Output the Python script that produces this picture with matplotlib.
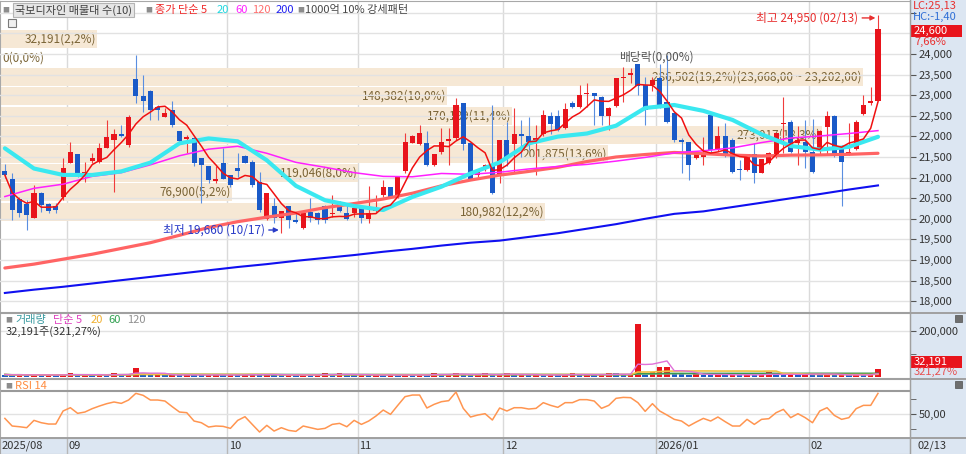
import numpy as np
import pandas as pd
import matplotlib
matplotlib.use('Agg')
import matplotlib.pyplot as plt
from matplotlib.patches import Rectangle
from matplotlib.lines import Line2D
from matplotlib.ticker import FuncFormatter

plt.rcParams['font.family'] = ['Noto Sans CJK KR', 'DejaVu Sans']
plt.rcParams['axes.unicode_minus'] = False

# ---- 데이터 (일봉, 2025-08-19 ~ 2026-02-13) ----
holidays = ['2025-10-03', '2025-10-06', '2025-10-07', '2025-10-08', '2025-10-09',
            '2025-12-25', '2025-12-31', '2026-01-01']
dates = pd.bdate_range('2025-08-19', '2026-02-13', freq='C', holidays=holidays)

opens = [21160, 20960, 20470, 20350, 20010, 20620, 20360, 20300, 20520, 21360,
         21570, 21060, 21410, 21390, 21730, 21910, 22050, 21790, 23390, 22970,
         23090, 22710, 22480, 22630, 22140, 21930, 21970, 21470, 21270, 20920,
         21360, 21060, 21230, 21530, 21390, 20900, 19990, 20310, 20010, 20310,
         19970, 19770, 20170, 20150, 20310, 20110, 20360, 20150, 20130, 20310,
         19990, 20200, 20580, 20760, 20520, 21170, 21850, 21820, 21830, 21310,
         21610, 21900, 21950, 22820, 21830, 21060, 21200, 21310, 21040, 21910,
         21820, 22050, 22010, 21910, 22050, 22500, 22500, 22200, 22820, 22720,
         23030, 23060, 22950, 22500, 22740, 23410, 23490, 23760, 23250, 23250,
         23410, 22840, 22560, 21910, 21870, 21470, 21500, 22520, 21670, 22010,
         21910, 21200, 21190, 21570, 21120, 21350, 21490, 22310, 22360, 21830,
         21870, 21610, 21670, 22220, 22490, 21750, 21550, 21690, 22540, 22800,
         22860]
highs = [21330, 21100, 20540, 20460, 20820, 20660, 20390, 20380, 21470, 21870,
         21570, 21390, 21590, 21830, 22400, 22170, 22280, 22520, 23980, 23490,
         23130, 22760, 22680, 22870, 22140, 22030, 21990, 21470, 21270, 21270,
         21710, 21060, 21590, 21550, 21430, 21140, 20620, 20500, 20190, 20310,
         20130, 20170, 20500, 20170, 20340, 20580, 20420, 20340, 20380, 20340,
         20800, 20580, 20940, 20780, 21010, 22080, 22030, 22280, 22120, 21570,
         22200, 22200, 22920, 22820, 21830, 21180, 21340, 22760, 21910, 22360,
         22680, 22400, 22480, 22280, 22640, 22600, 22640, 22800, 22860, 23250,
         23290, 23060, 22970, 22720, 23410, 23690, 23650, 23760, 23450, 23450,
         23760, 23980, 22600, 21950, 21870, 21610, 21990, 22520, 22250, 22330,
         21950, 21430, 21570, 21830, 21450, 21630, 22090, 22960, 22400, 22250,
         22400, 22420, 22160, 22620, 22520, 21790, 22320, 22400, 23010, 23210,
         24950]
lows = [20980, 19970, 20050, 19720, 20010, 20170, 20130, 20130, 20460, 21350,
        21020, 20900, 21350, 21350, 21710, 20660, 21990, 21750, 22800, 22600,
        22400, 22400, 22460, 22240, 21830, 21590, 21270, 20380, 20860, 20880,
        20960, 20780, 21020, 21350, 20780, 20170, 19970, 19890, 19660, 19770,
        19890, 19750, 19930, 19870, 19890, 20050, 20170, 19970, 20050, 19890,
        19890, 20170, 20540, 20500, 20500, 21100, 21830, 21790, 21280, 21280,
        21570, 21310, 21910, 21670, 20940, 21020, 21170, 20600, 20860, 21270,
        21140, 21510, 21670, 21060, 22010, 22060, 22120, 22170, 22680, 22680,
        22720, 22280, 22280, 22160, 22720, 22840, 23290, 23010, 22280, 23100,
        22680, 22320, 21870, 21100, 20940, 21450, 21310, 21630, 21650, 21510,
        21100, 20940, 21150, 20860, 21100, 21330, 21470, 21590, 21590, 21310,
        21230, 21120, 21550, 21550, 21510, 20300, 21540, 21670, 22520, 22760,
        22860]
closes = [21060, 20210, 20150, 20090, 20620, 20340, 20200, 20210, 21230, 21610,
          21120, 21140, 21470, 21730, 21980, 22060, 22010, 22480, 22970, 22860,
          22630, 22640, 22560, 22280, 21900, 21980, 21360, 21310, 20930, 20960,
          20960, 20820, 21160, 21360, 20820, 20210, 20620, 20010, 20190, 19970,
          19930, 20150, 20010, 19960, 19970, 20150, 20200, 19990, 20250, 20010,
          20130, 20250, 20760, 20520, 21010, 21870, 22010, 22080, 21310, 21570,
          21870, 21930, 22760, 21820, 20960, 21160, 21310, 20620, 21910, 21510,
          22050, 22010, 21870, 21970, 22520, 22300, 22160, 22660, 22720, 23010,
          23060, 22980, 22500, 22700, 23410, 23450, 23530, 23220, 22630, 23370,
          22720, 22360, 21910, 21870, 21310, 21590, 21540, 21670, 22010, 21550,
          21140, 21180, 21570, 21100, 21450, 21590, 22080, 22330, 21630, 21910,
          21610, 21140, 22120, 22490, 21550, 21390, 21630, 22360, 22760, 22850,
          24600]
volumes = [9500, 7000, 8500, 6500, 9000, 7500, 8000, 6000, 8500, 14000,
           7000, 8000, 6500, 9000, 7000, 14500, 8000, 9500, 39000, 12000,
           8000, 9000, 6500, 8500, 7000, 9000, 8000, 6500, 7500, 9500,
           7000, 8000, 6000, 9000, 13000, 7500, 10000, 8000, 6500, 8500,
           7000, 9000, 6500, 8000, 14000, 7000, 14500, 8000, 7000, 9000,
           6500, 8000, 7000, 9500, 6000, 8000, 7000, 9000, 7500, 14000,
           8000, 9500, 16000, 9000, 7000, 8500, 15000, 7500, 9000, 15000,
           8000, 9000, 7000, 8500, 6500, 9000, 7500, 8000, 16000, 7000,
           9000, 6500, 8500, 15000, 14500, 7000, 9000, 227000, 8000, 22000,
           42000, 43000, 14000, 10000, 8000, 16000, 8500, 7000, 9000, 7500,
           9500, 7000, 8500, 6500, 9000, 19000, 8000, 7000, 9500, 7500,
           16000, 15500, 8000, 9000, 7000, 8500, 6500, 9000, 7500, 10020,
           32191]
rsi14 = [43.2, 30.5, 29.3, 27.7, 39.9, 36.0, 33.8, 33.8, 55.5, 61.0,
         51.6, 53.8, 59.4, 63.8, 67.7, 70.5, 68.2, 73.8, 84.9, 81.6,
         73.8, 73.8, 72.1, 62.7, 53.8, 52.7, 38.8, 36.0, 28.8, 30.5,
         29.9, 26.6, 39.9, 46.0, 33.2, 20.5, 31.6, 22.1, 27.7, 23.2,
         21.6, 30.5, 27.7, 24.9, 26.6, 33.2, 34.9, 29.3, 39.9, 33.2,
         38.8, 47.1, 57.1, 49.9, 64.9, 79.4, 82.1, 82.1, 60.5, 66.6,
         71.0, 72.7, 87.1, 59.9, 45.5, 48.8, 51.0, 40.5, 60.5, 55.5,
         61.0, 61.0, 58.8, 59.9, 69.4, 64.9, 61.6, 69.4, 69.4, 74.4,
         74.4, 72.1, 59.9, 64.9, 76.6, 78.2, 77.7, 69.4, 54.9, 67.7,
         55.5, 48.8, 41.6, 38.8, 30.5, 37.1, 43.2, 38.8, 45.5, 37.7,
         30.5, 30.5, 41.6, 33.2, 41.6, 42.7, 52.7, 58.2, 44.4, 51.0,
         44.4, 36.0, 55.5, 61.0, 48.2, 41.6, 44.4, 59.4, 64.9, 64.9,
         84.9]

# 장기 이동평균 (4봉 간격으로 읽은 값)
ma_idx = list(range(0, 121, 4))
ma20 = [21711, 21220, 21064, 21064, 21150, 21363, 21832, 21950, 21880, 21420, 20800,
        20450, 20310, 20214, 20530, 20780, 21100, 21370, 21830, 21995, 22070,
        22260, 22690, 22762, 22620, 22400, 22050, 21767, 21680, 21745, 21990]
ma60 = [20540, 20740, 20840, 21030, 21120, 21310, 21530, 21690, 21760, 21590, 21370,
        21250, 21120, 21030, 21020, 21100, 21080, 21130, 21210, 21270, 21320,
        21400, 21490, 21600, 21650, 21720, 21850, 21960, 22010, 22070, 22140]
ma120 = [18806, 18900, 19020, 19140, 19280, 19420, 19600, 19790, 19930, 20040, 20140,
         20270, 20370, 20480, 20620, 20800, 20940, 21060, 21150, 21250, 21390,
         21500, 21560, 21610, 21580, 21545, 21525, 21545, 21550, 21565, 21590]
ma200 = [18200, 18280, 18350, 18430, 18510, 18590, 18670, 18750, 18830, 18900, 18980,
         19050, 19120, 19200, 19270, 19350, 19420, 19470, 19560, 19650, 19760,
         19870, 20000, 20120, 20180, 20285, 20390, 20497, 20600, 20710, 20810]

# 매물대 (10구간)
band_start = 19940
band_step = 466
band_vol = [180982, 76900, 119046, 201875, 273017, 170189, 148382, 286502, 0, 32191]

# ---- 계산 ----
o = np.array(opens); h = np.array(highs); l = np.array(lows); c = np.array(closes)
v = np.array(volumes)
n = len(c)
x = np.arange(n)
ma5 = pd.Series(c).rolling(5, min_periods=1).mean()
vol_ma = {k: pd.Series(v).rolling(k, min_periods=1).mean() for k in (5, 20, 60, 120)}


def kr(val, d=2):
    return f'{val:,.{d}f}'.replace('.', ',') if d else f'{val:,}'


W, H = 966, 454
RED = '#e8141c'
BLUE = '#1a5ac8'
GRID = '#e2e2e2'
STRIP = '#dce6f2'

fig = plt.figure(figsize=(W / 100, H / 100), dpi=100)
fig.patch.set_facecolor('white')


def fx(px):
    return px / W


def fy(py):
    return 1 - py / H


def panel(top, bottom):
    a = fig.add_axes([0, fy(bottom), 910 / W, (bottom - top) / H])
    a.set_xlim(-0.67, 124.4)
    a.tick_params(axis='x', bottom=False, labelbottom=False)
    for s in a.spines.values():
        s.set_color('#a8a8a8')
    return a


fig.add_artist(Rectangle((fx(910), 0), 1 - fx(910), 1, transform=fig.transFigure,
                         fc=STRIP, ec='none', zorder=0))

ax = panel(1, 312)
axv = panel(313, 378)
axr = panel(379, 437.6)
axd = panel(437.6, 454)

month_first = [i for i in range(1, n) if dates[i].month != dates[i - 1].month]
for a in (ax, axv, axr):
    for m in month_first:
        a.axvline(m - 0.5, color='#dadada', lw=1, zorder=0.5)

# ---- 가격 패널 ----
ax.set_ylim(17738, 25286)
ax.yaxis.tick_right()
ax.set_yticks(np.arange(18000, 25001, 500))
ax.yaxis.set_major_formatter(FuncFormatter(lambda val, p: f'{int(val):,}' if val <= 24000 else ''))
ax.tick_params(axis='y', direction='out', length=4, pad=2, labelsize=8,
               colors='#555555', labelcolor='#333333')
ax.grid(axis='y', color=GRID, lw=1, zorder=1.5)
ax.set_axisbelow(False)

span = 124.4 + 0.67
band_max = max(band_vol)
band_total = sum(band_vol)
for k, bv in enumerate(band_vol):
    lo = band_start + k * band_step
    mid = lo + band_step / 2
    wdt = bv / band_max * span * 0.948
    ax.barh(mid, wdt, height=band_step * 0.94, left=-0.67, color='#f6e8d5', lw=0, zorder=1)
    txt = f'{bv:,}({bv / band_total * 100:.1f}%)'.replace('.', ',')
    if bv == band_max:
        txt += f'({kr(lo + band_step)} ~ {kr(lo)})'
    if bv > 0:
        ax.text(-0.67 + wdt - 0.1, mid, txt, ha='right', va='center', fontsize=8.5,
                color='#7a6436', zorder=2)
    else:
        ax.text(-0.35, mid, txt, ha='left', va='center', fontsize=8.5, color='#7a6436', zorder=2)

up = c >= o
body_col = np.where(up, RED, BLUE)
wick_col = np.where(up, '#f03c3c', '#5a8ee0')
ax.vlines(x, l, h, colors=wick_col, lw=0.8, zorder=3)
ax.bar(x, np.maximum(np.abs(c - o), 25), bottom=np.minimum(o, c), width=0.7,
       color=body_col, lw=0, zorder=3.2)

ax.plot(ma_idx, ma200, color='#1010f0', lw=1.5, zorder=4)
ax.plot(ma_idx, ma120, color='#ff6464', lw=2.3, zorder=4, solid_capstyle='round')
ax.plot(ma_idx, ma60, color='#ff20ff', lw=1.1, zorder=4.1)
ax.plot(ma_idx, ma20, color='#3ae8f0', lw=3.0, zorder=4.2, solid_capstyle='round')
ax.plot(x, ma5, color='#f01010', lw=1.1, zorder=4.3)

i_hi = int(np.argmax(h))
i_lo = int(np.argmin(l))
ax.annotate(f'최고 {h[i_hi]:,} ({dates[i_hi]:%m/%d})', xy=(i_hi - 0.35, h[i_hi] - 75),
            xytext=(i_hi - 2.75, h[i_hi] - 75), ha='right', va='center', fontsize=8.5,
            color='#e83030', zorder=6,
            arrowprops=dict(arrowstyle='-|>', color='#e83030', lw=1, mutation_scale=7,
                            shrinkA=1, shrinkB=0))
ax.annotate(f'최저 {l[i_lo]:,} ({dates[i_lo]:%m/%d})', xy=(i_lo - 0.35, l[i_lo] + 68),
            xytext=(i_lo - 2.3, l[i_lo] + 68), ha='right', va='center', fontsize=8.5,
            color='#2a3cc8', zorder=6,
            arrowprops=dict(arrowstyle='-|>', color='#2a3cc8', lw=1, mutation_scale=7,
                            shrinkA=1, shrinkB=0))
ax.text(89.5, 23930, '배당락(0,00%)', ha='center', va='center', fontsize=8.5,
        color='#555555', zorder=6)

# 범례 (상단)
ly = fy(10)
def legend_text(px, s, col, **kw):
    fig.text(fx(px), ly, s, color=col, fontsize=8, va='center', ha='left', **kw)

for bx in (2, 145, 297):
    fig.text(fx(bx), ly, '■', color='#8c8c8c', fontsize=5, va='center')
legend_text(15, '국보디자인 매물대 수(10)', '#404040',
            bbox=dict(boxstyle='square,pad=0.15', fc='#e6e6e6', ec='#b4b4b4', lw=0.8))
legend_text(155, '종가 단순 5', '#f02828')
legend_text(217, '20', '#20d8e0')
legend_text(235, '60', '#ff20ff')
legend_text(252, '120', '#ff6e6e')
legend_text(276, '200', '#2020f0')
legend_text(305, '1000억 10% 강세패턴', '#484848')
fig.add_artist(Rectangle((fx(8), fy(27)), fx(8), 8 / H, transform=fig.transFigure,
                         fc='#f0f0f0', ec='#7a7a7a', lw=0.8))

# 오른쪽 가격 정보
fig.text(fx(913), fy(6), f'LC:{kr((c[-1] - l.min()) / l.min() * 100)}', color='#e83030',
         fontsize=8, va='center')
fig.text(fx(913), fy(17), f'HC:{kr((c[-1] - h.max()) / h.max() * 100)}', color='#2f6fd6',
         fontsize=8, va='center')
fig.add_artist(Rectangle((fx(911), fy(37)), fx(51), 12 / H, transform=fig.transFigure,
                         fc=RED, ec='none'))
fig.text(fx(914), fy(31), f'{c[-1]:,}', color='white', fontsize=8, va='center')
fig.text(fx(914), fy(42), f'{kr((c[-1] / c[-2] - 1) * 100)}%', color='#e83030',
         fontsize=8, va='center')

# ---- 거래량 패널 ----
vol_up = np.r_[False, v[1:] >= v[:-1]]
axv.bar(x, v, width=0.75, color=np.where(vol_up, RED, BLUE), lw=0, zorder=3)
axv.plot(x, vol_ma[120], color='#b4b4b4', lw=1.0, zorder=4)
axv.plot(x, vol_ma[60], color='#3a9a50', lw=1.2, zorder=4)
axv.plot(x, vol_ma[20], color='#f0c040', lw=1.2, zorder=4)
axv.plot(x, vol_ma[5], color='#e070d8', lw=1.0, zorder=4)
axv.set_ylim(-5652, 276970)
axv.yaxis.tick_right()
axv.set_yticks([200000])
axv.set_yticks([100000], minor=True)
axv.yaxis.set_major_formatter(FuncFormatter(lambda val, p: f'{int(val):,}'))
axv.tick_params(axis='y', which='both', direction='out', length=4, pad=2, labelsize=8,
                colors='#555555', labelcolor='#333333')
axv.grid(axis='y', color=GRID, lw=1, zorder=0.5)

vy = fy(320)
fig.text(fx(5), vy, '■', color='#8c8c8c', fontsize=5, va='center')
fig.text(fx(15), vy, '거래량', color='#3a9aa0', fontsize=8, va='center')
fig.text(fx(53), vy, '단순 5', color='#e040c0', fontsize=8, va='center')
fig.text(fx(91), vy, '20', color='#f0b030', fontsize=8, va='center')
fig.text(fx(108), vy, '60', color='#30a050', fontsize=8, va='center')
fig.text(fx(127), vy, '120', color='#909090', fontsize=8, va='center')
fig.text(fx(6), fy(332), f'{v[-1]:,}주({kr(v[-1] / v[-2] * 100)}%)', color='#333333',
         fontsize=8, va='center')
fig.add_artist(Rectangle((fx(911), fy(367.5)), fx(51), 11.5 / H, transform=fig.transFigure,
                         fc=RED, ec='none'))
fig.text(fx(914), fy(361.5), f'{v[-1]:,}', color='white', fontsize=8, va='center')
fig.text(fx(914), fy(372), f'{kr(v[-1] / v[-2] * 100)}%', color='#e85050', fontsize=8,
         va='center')

# ---- RSI 패널 ----
axr.plot(x, rsi14, color='#ff9550', lw=1.1, zorder=4)
axr.set_ylim(11.2, 108.8)
axr.yaxis.tick_right()
axr.set_yticks([50])
axr.set_yticks([25, 75], minor=True)
axr.yaxis.set_major_formatter(FuncFormatter(lambda val, p: kr(val)))
axr.tick_params(axis='y', which='both', direction='out', length=4, pad=2, labelsize=8,
                colors='#555555', labelcolor='#333333')
axr.axhline(50, color=GRID, lw=1, zorder=0.5)
axr.plot([0, 1], [0.795, 0.795], transform=axr.transAxes, color='#9a9a9a', lw=1.5, zorder=2)
fig.text(fx(5), fy(386), '■', color='#8c8c8c', fontsize=5, va='center')
fig.text(fx(15), fy(386), 'RSI 14', color='#ff8c40', fontsize=8, va='center')

for py in (315, 381):
    fig.add_artist(Rectangle((fx(955), fy(py + 7)), fx(7), 7 / H, transform=fig.transFigure,
                             fc='#6e6e6e', ec='#505050', lw=0.5))

# ---- 날짜 축 ----
axd.set_facecolor(STRIP)
axd.set_ylim(0, 1)
axd.set_yticks([])
axd.text(-0.4, 0.48, f'{dates[0]:%Y/%m}', fontsize=8, color='#333333', va='center')
for m in month_first:
    axd.axvline(m - 0.5, color='#b8b8b8', lw=1)
    lab = f'{dates[m]:%Y/%m}' if dates[m].month == 1 else f'{dates[m]:%m}'
    axd.text(m - 0.25, 0.48, lab, fontsize=8, color='#333333', va='center')
fig.text(fx(918), fy(446), f'{dates[-1]:%m/%d}', fontsize=8, color='#333333', va='center')

# 패널 구분선
for py in (312.5, 378.5, 437.8):
    fig.add_artist(Line2D([0, 1], [fy(py), fy(py)], transform=fig.transFigure,
                          color='#a0a0a0', lw=1.4))
fig.add_artist(Line2D([fx(910), fx(910)], [0, 1], transform=fig.transFigure,
                      color='#a0a0a0', lw=1))

fig.savefig('out.png', dpi=100)
